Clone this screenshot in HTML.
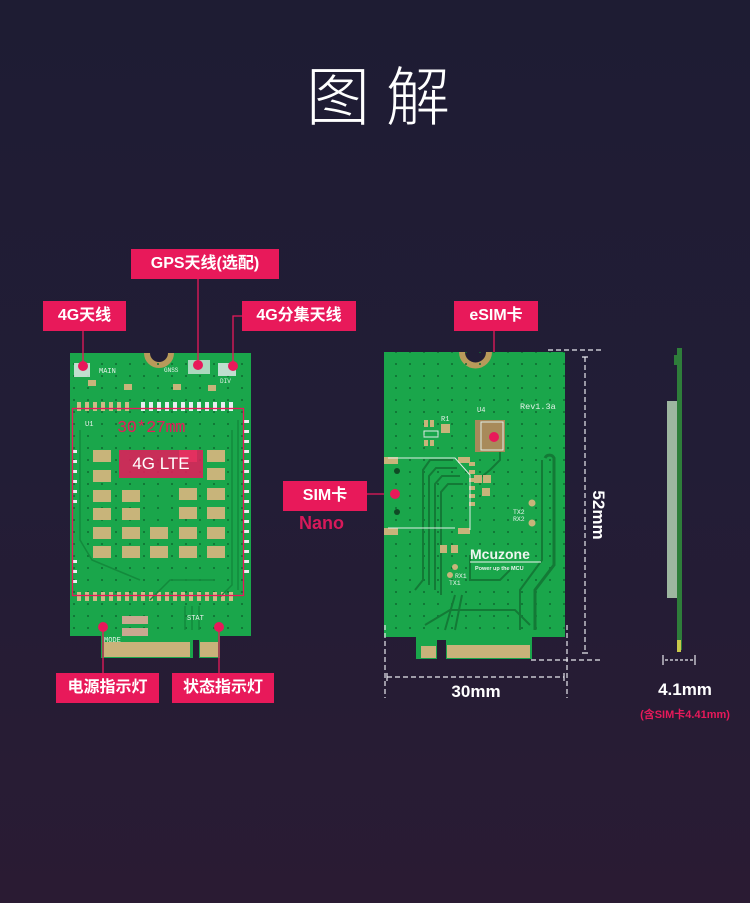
<!DOCTYPE html>
<html><head><meta charset="utf-8"><style>
html,body{margin:0;padding:0}
body{width:750px;height:903px;overflow:hidden;background:linear-gradient(180deg,#1e1c33 0%,#221d36 50%,#2a1b33 100%);font-family:"Liberation Sans","Noto Sans CJK SC",sans-serif;position:relative}
.t{position:absolute;color:#fff}
.lab{position:absolute;background:#e8195a;color:#fff;font-weight:bold;font-size:16px;line-height:30px;height:30px;text-align:center;font-family:"Liberation Sans","Noto Sans CJK SC",sans-serif}
svg{position:absolute;left:0;top:0}
</style></head><body>
<svg width="750" height="903" viewBox="0 0 750 903">
<defs>
<pattern id="dots" width="14" height="12" patternUnits="userSpaceOnUse"><circle cx="4" cy="4" r="1" fill="#0e6b30"/></pattern>
</defs>
<path d="M70 353 H148 A11 11 0 0 0 170 353 H251 V636 H220 V658 H199 V640 H193 V658 H101 V636 H70 Z" fill="#1aa64b"/>
<path d="M147 353 A12 12 0 0 0 171 353" fill="none" stroke="#b89a5a" stroke-width="6"/>
<rect x="70" y="353" width="181" height="283" fill="url(#dots)"/>
<rect x="104" y="642" width="86" height="15" fill="#c9b27a"/>
<rect x="200" y="642" width="18" height="15" fill="#c9b27a"/>
<g fill="#cdbb86">
<rect x="77" y="402" width="4" height="9"/><rect x="85" y="402" width="4" height="9"/><rect x="93" y="402" width="4" height="9"/><rect x="101" y="402" width="4" height="9"/><rect x="109" y="402" width="4" height="9"/><rect x="117" y="402" width="4" height="9"/><rect x="125" y="402" width="4" height="9"/>
<rect x="77" y="592" width="4" height="9"/><rect x="85" y="592" width="4" height="9"/><rect x="93" y="592" width="4" height="9"/><rect x="101" y="592" width="4" height="9"/><rect x="109" y="592" width="4" height="9"/><rect x="117" y="592" width="4" height="9"/><rect x="125" y="592" width="4" height="9"/><rect x="133" y="592" width="4" height="9"/><rect x="141" y="592" width="4" height="9"/><rect x="149" y="592" width="4" height="9"/><rect x="157" y="592" width="4" height="9"/><rect x="165" y="592" width="4" height="9"/><rect x="173" y="592" width="4" height="9"/><rect x="181" y="592" width="4" height="9"/><rect x="189" y="592" width="4" height="9"/><rect x="197" y="592" width="4" height="9"/><rect x="205" y="592" width="4" height="9"/><rect x="213" y="592" width="4" height="9"/><rect x="221" y="592" width="4" height="9"/><rect x="229" y="592" width="4" height="9"/>
</g>
<g fill="#e8eef0">
<rect x="141" y="402" width="4" height="9"/><rect x="149" y="402" width="4" height="9"/><rect x="157" y="402" width="4" height="9"/><rect x="165" y="402" width="4" height="9"/><rect x="173" y="402" width="4" height="9"/><rect x="181" y="402" width="4" height="9"/><rect x="189" y="402" width="4" height="9"/><rect x="197" y="402" width="4" height="9"/><rect x="205" y="402" width="4" height="9"/><rect x="213" y="402" width="4" height="9"/><rect x="221" y="402" width="4" height="9"/><rect x="229" y="402" width="4" height="9"/>
<rect x="243" y="420" width="6" height="3"/><rect x="243" y="430" width="6" height="3"/><rect x="243" y="440" width="6" height="3"/><rect x="243" y="450" width="6" height="3"/><rect x="243" y="460" width="6" height="3"/><rect x="243" y="470" width="6" height="3"/><rect x="243" y="480" width="6" height="3"/><rect x="243" y="490" width="6" height="3"/><rect x="243" y="500" width="6" height="3"/><rect x="243" y="510" width="6" height="3"/><rect x="243" y="520" width="6" height="3"/><rect x="243" y="530" width="6" height="3"/><rect x="243" y="540" width="6" height="3"/><rect x="243" y="550" width="6" height="3"/><rect x="243" y="560" width="6" height="3"/><rect x="243" y="570" width="6" height="3"/>
<rect x="72" y="450" width="5" height="3"/><rect x="72" y="460" width="5" height="3"/><rect x="72" y="470" width="5" height="3"/><rect x="72" y="480" width="5" height="3"/><rect x="72" y="490" width="5" height="3"/><rect x="72" y="500" width="5" height="3"/><rect x="72" y="560" width="5" height="3"/><rect x="72" y="570" width="5" height="3"/><rect x="72" y="580" width="5" height="3"/>
<rect x="74" y="363" width="16" height="14" opacity=".8"/><rect x="188" y="360" width="22" height="14" opacity=".7"/><rect x="218" y="363" width="18" height="13" opacity=".8"/>
</g>
<g fill="#c8b47a">
<rect x="93" y="450" width="18" height="12"/><rect x="93" y="470" width="18" height="12"/><rect x="93" y="490" width="18" height="12"/><rect x="122" y="490" width="18" height="12"/><rect x="93" y="508" width="18" height="12"/><rect x="122" y="508" width="18" height="12"/><rect x="93" y="527" width="18" height="12"/><rect x="122" y="527" width="18" height="12"/><rect x="150" y="527" width="18" height="12"/><rect x="93" y="546" width="18" height="12"/><rect x="122" y="546" width="18" height="12"/><rect x="150" y="546" width="18" height="12"/>
<rect x="179" y="450" width="18" height="12"/><rect x="207" y="450" width="18" height="12"/><rect x="207" y="468" width="18" height="12"/><rect x="179" y="488" width="18" height="12"/><rect x="207" y="488" width="18" height="12"/><rect x="179" y="507" width="18" height="12"/><rect x="207" y="507" width="18" height="12"/><rect x="179" y="527" width="18" height="12"/><rect x="207" y="527" width="18" height="12"/><rect x="179" y="546" width="18" height="12"/><rect x="207" y="546" width="18" height="12"/>
<rect x="88" y="380" width="8" height="6"/><rect x="124" y="384" width="8" height="6"/><rect x="173" y="384" width="8" height="6"/><rect x="208" y="385" width="8" height="6"/>
<rect x="122" y="616" width="26" height="8" fill="#c9a890"/><rect x="122" y="628" width="26" height="8" fill="#c9a890"/>
</g>
<g fill="none" stroke="#138a3c" stroke-width="1.5">
<path d="M238 420 V590"/><path d="M232 430 V585 L220 597"/><path d="M80 430 V540 L92 560 L140 580"/><path d="M150 600 L170 580 L215 580"/><path d="M185 606 V630"/><path d="M192 606 V630"/><path d="M199 606 V630"/>
</g>
<g fill="#e8195a">
<circle cx="83" cy="366" r="5"/><circle cx="198" cy="365" r="5"/><circle cx="233" cy="366" r="5"/><circle cx="103" cy="627" r="5"/><circle cx="219" cy="627" r="5"/>
</g>
<rect x="72.5" y="408.5" width="171" height="187" fill="none" stroke="#e8195a" stroke-width="1.3"/>
<rect x="119" y="450" width="84" height="28" fill="#e8195a" opacity=".85"/>
<g stroke="#e8195a" stroke-width="1.3" fill="none">
<path d="M83 331 V366"/><path d="M198 279 V365"/><path d="M242 316 H233 V366"/><path d="M103 627 V673"/><path d="M219 627 V673"/>
<path d="M367 494 H394"/><path d="M494 331 V437"/>
</g>
<path d="M384 352 H461 A14 14 0 0 0 490 352 H565 V637 H532 V659 H446 V640 H437 V659 H416 V637 H384 Z" fill="#1aa64b"/>
<path d="M462 352 A13 13 0 0 0 489 352" fill="none" stroke="#b89a5a" stroke-width="6"/>
<rect x="384" y="352" width="181" height="285" fill="url(#dots)"/>
<rect x="421" y="646" width="15" height="12" fill="#c9b27a"/>
<rect x="447" y="645" width="83" height="13" fill="#c9b27a"/>
<g fill="none" stroke="#137a36" stroke-width="2">
<path d="M453 460 H430 L423 470 V580 L415 590"/><path d="M457 468 H436 L429 476 V585"/><path d="M460 476 H442 L435 484 V590"/><path d="M463 484 H448 L441 492 V595"/><path d="M470 555 L470 580 L500 580 L510 570"/><path d="M542 460 V560 L520 590 L520 630"/><path d="M425 625 L450 610 H515 L530 625"/><path d="M455 595 L445 630"/><path d="M462 595 L455 630"/><path d="M500 440 V460 L490 470 L480 478"/>
</g>
<path d="M545 458 A5 5 0 0 1 554 458 V565 L535 590 V630" fill="none" stroke="#137a36" stroke-width="3"/>
<g fill="#c8b47a">
<rect x="384" y="457" width="14" height="7"/><rect x="384" y="528" width="14" height="7"/><rect x="458" y="457" width="12" height="6"/><rect x="458" y="528" width="12" height="6"/>
<rect x="475" y="420" width="30" height="32" fill="#a88a5a"/>
<rect x="441" y="424" width="9" height="9"/><rect x="469" y="462" width="6" height="4"/><rect x="469" y="470" width="6" height="4"/><rect x="469" y="478" width="6" height="4"/><rect x="469" y="486" width="6" height="4"/><rect x="469" y="494" width="6" height="4"/><rect x="469" y="502" width="6" height="4"/>
<rect x="474" y="475" width="8" height="8"/><rect x="483" y="475" width="8" height="8"/><rect x="482" y="488" width="8" height="8"/><rect x="440" y="545" width="7" height="8"/><rect x="451" y="545" width="7" height="8"/>
<circle cx="532" cy="503" r="3.5"/><circle cx="532" cy="523" r="3.5"/><circle cx="455" cy="567" r="3"/><circle cx="450" cy="575" r="3"/>
<rect x="424" y="420" width="4" height="7"/><rect x="430" y="420" width="4" height="7"/><rect x="424" y="440" width="4" height="6"/><rect x="430" y="440" width="4" height="6"/>
</g>
<g fill="none" stroke="#dfeee6" stroke-width="1">
<rect x="424" y="431" width="14" height="6"/><path d="M388 458 H455 L470 475 V530"/><path d="M388 528 H455"/><rect x="481" y="422" width="22" height="28"/>
</g>
<circle cx="395" cy="494" r="5" fill="#e8195a"/><circle cx="494" cy="437" r="5" fill="#e8195a"/>
<circle cx="397" cy="471" r="3" fill="#0f4a25"/><circle cx="397" cy="512" r="3" fill="#0f4a25"/>
<text x="520" y="409" fill="#e6f2ea" font-size="8.5" font-family="Liberation Mono,monospace">Rev1.3a</text>
<text x="477" y="412" fill="#e6f2ea" font-size="7" font-family="Liberation Mono,monospace">U4</text>
<text x="441" y="421" fill="#e6f2ea" font-size="7" font-family="Liberation Mono,monospace">R1</text>
<text x="513" y="514" fill="#e6f2ea" font-size="6.5" font-family="Liberation Mono,monospace">TX2</text>
<text x="513" y="521" fill="#e6f2ea" font-size="6.5" font-family="Liberation Mono,monospace">RX2</text>
<text x="455" y="578" fill="#e6f2ea" font-size="6.5" font-family="Liberation Mono,monospace">RX1</text>
<text x="449" y="585" fill="#e6f2ea" font-size="6.5" font-family="Liberation Mono,monospace">TX1</text>
<text x="470" y="559" fill="#eef6f0" font-size="14" font-weight="bold" font-family="Liberation Sans,sans-serif">Mcuzone</text>
<line x1="470" y1="562" x2="541" y2="562" stroke="#eef6f0" stroke-width="1"/>
<text x="475" y="570" fill="#eef6f0" font-size="5.5" font-weight="bold" font-family="Liberation Sans,sans-serif">Power up the MCU</text>
<text x="99" y="373" fill="#e6f2ea" font-size="7" font-family="Liberation Mono,monospace">MAIN</text>
<text x="164" y="372" fill="#e6f2ea" font-size="6" font-family="Liberation Mono,monospace">GNSS</text>
<text x="220" y="383" fill="#e6f2ea" font-size="6" font-family="Liberation Mono,monospace">DIV</text>
<text x="85" y="426" fill="#e6f2ea" font-size="7" font-family="Liberation Mono,monospace">U1</text>
<text x="187" y="620" fill="#e6f2ea" font-size="7" font-family="Liberation Mono,monospace">STAT</text>
<text x="104" y="642" fill="#e6f2ea" font-size="7" font-family="Liberation Mono,monospace">MODE</text>
<g stroke="#e8e8ee" stroke-width="1.2" stroke-dasharray="5,3" fill="none">
<path d="M548 350 H601"/><path d="M585 357 V653"/><path d="M531 660 H600"/>
<path d="M385 625 V698"/><path d="M567 625 V698"/><path d="M387 677 H564"/>
<path d="M665 660 H694" stroke-dasharray="3,2"/>
</g>
<path d="M582 357 H588 M582 653 H588 M387 673 V681 M564 673 V681 M663 655 V665 M695 655 V665" stroke="#e8e8ee" stroke-width="1.2"/>
<rect x="677" y="348" width="5" height="302" fill="#2e7d3a"/>
<rect x="674" y="355" width="3" height="10" fill="#2e7d3a"/>
<rect x="667" y="401" width="10" height="197" fill="#9db6a0"/>
<rect x="677" y="640" width="4" height="12" fill="#c8c84a"/>
</svg>
<div class="t" style="left:306px;top:48px;font-size:64px;font-weight:300;letter-spacing:16px;font-family:'Noto Sans CJK SC',sans-serif;line-height:90px">图解</div>
<div class="lab" style="left:131px;top:249px;width:148px">GPS天线(选配)</div>
<div class="lab" style="left:43px;top:301px;width:83px">4G天线</div>
<div class="lab" style="left:242px;top:301px;width:114px">4G分集天线</div>
<div class="lab" style="left:454px;top:301px;width:84px">eSIM卡</div>
<div class="lab" style="left:283px;top:481px;width:84px">SIM卡</div>
<div class="t" style="left:299px;top:513px;font-size:18px;font-weight:bold;color:#d8195a">Nano</div>
<div class="lab" style="left:56px;top:673px;width:103px">电源指示灯</div>
<div class="lab" style="left:172px;top:673px;width:102px">状态指示灯</div>
<div class="t" style="left:117px;top:419px;font-size:17px;color:#e8195a;font-family:'Liberation Mono',monospace;letter-spacing:-0.5px">30*27mm</div>
<div class="t" style="left:119px;top:450px;width:84px;text-align:center;font-size:17px;line-height:28px">4G LTE</div>
<div class="t" style="left:568px;top:505px;font-size:17px;font-weight:bold;transform:rotate(90deg);transform-origin:center;width:60px;text-align:center;line-height:20px">52mm</div>
<div class="t" style="left:436px;top:682px;width:80px;text-align:center;font-size:17px;font-weight:bold">30mm</div>
<div class="t" style="left:648px;top:680px;width:74px;text-align:center;font-size:17px;font-weight:bold">4.1mm</div>
<div class="t" style="left:620px;top:706px;width:130px;text-align:center;font-size:11px;font-weight:bold;color:#e8195a">(含SIM卡4.41mm)</div>
</body></html>
